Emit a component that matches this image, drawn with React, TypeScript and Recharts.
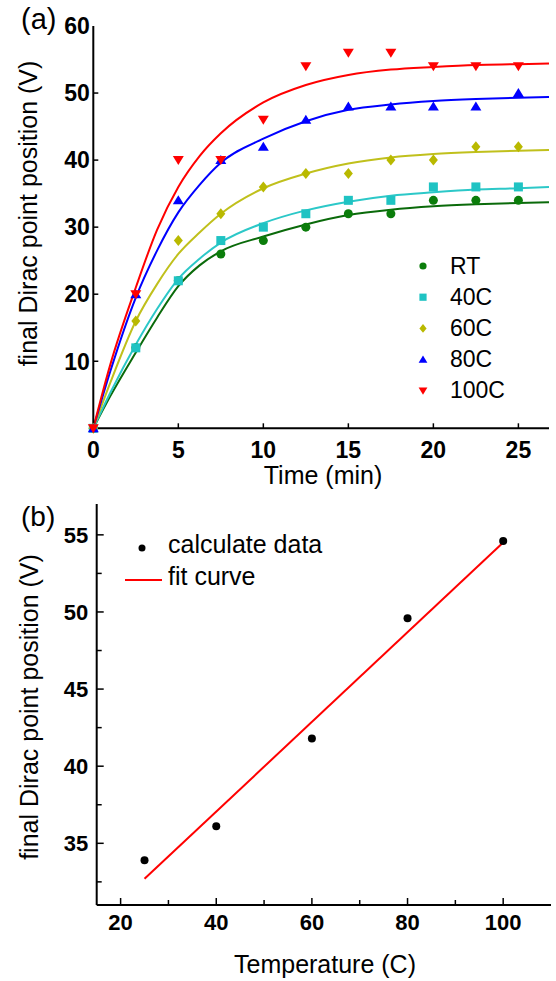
import { ComposedChart, Line, Scatter, XAxis, YAxis } from "recharts";

const FONT = '"Liberation Sans", Arial, sans-serif';

// (a) measured points
const times = [0, 2.5, 5, 7.5, 10, 12.5, 15, 17.5, 20, 22.5, 25];
const rtPts = [0, 12, 22, 26, 28, 30, 32, 32, 34, 34, 34];
const c40Pts = [0, 12, 22, 28, 30, 32, 34, 34, 36, 36, 36];
const c60Pts = [0, 16, 28, 32, 36, 38, 38, 40, 40, 42, 42];
const c80Pts = [0, 20, 34, 40, 42, 46, 48, 48, 48, 48, 50];
const c100Pts = [0, 20, 40, 40, 46, 54, 56, 56, 54, 54, 54];

// (a) fitted curves
const fitTimes = [0, 1, 2.5, 3.75, 5, 6.25, 7.5, 10, 12.5, 15, 17.5, 20, 22.5, 25, 26.8];
const rtFit = [0, 4.8, 11.3, 16.5, 21.2, 24.3, 26.4, 28.6, 30.4, 31.8, 32.6, 33.1, 33.4, 33.6, 33.7];
const c40Fit = [0, 5.3, 12.5, 17.8, 22.3, 25.3, 27.7, 30.6, 32.5, 33.8, 34.7, 35.2, 35.6, 35.8, 36.0];
const c60Fit = [0, 6.8, 16.0, 21.5, 26.0, 29.2, 32.0, 35.8, 38.0, 39.5, 40.4, 40.9, 41.2, 41.4, 41.5];
const c80Fit = [0, 8.5, 19.5, 26.5, 32.2, 36.3, 39.6, 43.2, 45.8, 47.5, 48.3, 48.8, 49.1, 49.3, 49.4];
const c100Fit = [0, 9.5, 21.0, 29.6, 36.0, 40.6, 44.0, 48.6, 51.2, 52.7, 53.5, 53.9, 54.2, 54.3, 54.4];

const seriesNames = ["RT", "40C", "60C", "80C", "100C"];

// (b)
const temps = [25, 40, 60, 80, 100];
const finalPos = [33.9, 36.1, 41.8, 49.6, 54.6];
const fitTemps = [25, 100];
const fitPos = [32.7, 54.5];

// ticks
const timeTicks = [0, 5, 10, 15, 20, 25];
const voltTicks = [0, 10, 20, 30, 40, 50, 60];
const tempTicks = [20, 30, 40, 50, 60, 70, 80, 90, 100];
const posTicks = [32.5, 35, 37.5, 40, 42.5, 45, 47.5, 50, 52.5, 55];

const markerColors = ["#0b7d0b", "#1fc3c3", "#b9b900", "#0000ff", "#ff0000"];
const lineColors = ["#0a6a0a", "#2cc8c8", "#c0c01c", "#0000ff", "#ff0000"];
const kinds = ["circle", "square", "diamond", "up", "down"];

const rows = (xs: number[], ys: number[], key: string) =>
  xs.map((x, i) => ({ [key]: x, v: ys[i] }));

const pointSets = [rtPts, c40Pts, c60Pts, c80Pts, c100Pts].map((p) => rows(times, p, "t"));
const fitSets = [rtFit, c40Fit, c60Fit, c80Fit, c100Fit].map((f) => rows(fitTimes, f, "t"));

function Marker({ kind, cx, cy, color, s = 1 }: any) {
  if (kind === "circle") return <circle cx={cx} cy={cy} r={4.5 * s} fill={color} />;
  if (kind === "square")
    return <rect x={cx - 4.5 * s} y={cy - 4.5 * s} width={9 * s} height={9 * s} fill={color} />;
  let d = "";
  if (kind === "diamond")
    d = `M${cx},${cy - 5.5 * s}L${cx + 4.5 * s},${cy}L${cx},${cy + 5.5 * s}L${cx - 4.5 * s},${cy}Z`;
  else if (kind === "up")
    d = `M${cx},${cy - 5 * s}L${cx + 5.5 * s},${cy + 4 * s}L${cx - 5.5 * s},${cy + 4 * s}Z`;
  else d = `M${cx},${cy + 5 * s}L${cx + 5.5 * s},${cy - 4 * s}L${cx - 5.5 * s},${cy - 4 * s}Z`;
  return <path d={d} fill={color} />;
}

type Side = "left" | "right" | "top" | "bottom";
interface TickOpts {
  side: Side;
  at: number; // axis line position (x for left/right, y for top/bottom)
  len: (v: number) => number;
  label?: (v: number) => string;
  size?: number;
  gap?: number;
}

// ticks point inward; the axis coordinate is fixed from the layout
const makeTick = (o: TickOpts) => (props: any) => {
  const { payload } = props;
  const v = payload.value as number;
  const c = payload.coordinate as number;
  const L = o.len(v);
  const text = o.label ? o.label(v) : "";
  const size = o.size ?? 23;
  const gap = o.gap ?? 4;
  const vertical = o.side === "left" || o.side === "right";
  const x = vertical ? o.at : c;
  const y = vertical ? c : o.at;
  let x2 = x, y2 = y, tx = x, ty = y;
  let anchor: any = "middle";
  if (o.side === "left") {
    x2 = x + L; tx = x - gap; ty = y + size * 0.36; anchor = "end";
  } else if (o.side === "right") {
    x2 = x - L;
  } else if (o.side === "bottom") {
    y2 = y - L; ty = y + gap + size * 0.72;
  } else {
    y2 = y + L;
  }
  return (
    <g>
      {L > 0 && <line x1={x} y1={y} x2={x2} y2={y2} stroke="#000" strokeWidth={1.5} />}
      {text && (
        <text x={tx} y={ty} textAnchor={anchor} style={{ fontFamily: FONT, fontWeight: 700, fontSize: size }} fill="#000">
          {text}
        </text>
      )}
    </g>
  );
};

const axisLine = { stroke: "#000", strokeWidth: 2 };

// plot box of (a): x 93.3..549, y 26..428.3
function TopChart() {
  return (
    <ComposedChart width={556} height={500} margin={{ top: 26, right: 7, bottom: 21.7, left: 33.3 }}>
      <XAxis
        type="number" dataKey="t" domain={[0, 26.8]} ticks={timeTicks} interval={0} height={50}
        tickSize={0} tickMargin={0} tickLine={false} axisLine={axisLine}
        tick={makeTick({ side: "bottom", at: 428.3, len: (v) => (v > 0 ? 5 : 0), label: (v) => String(v), gap: 13 })}
      />
      <XAxis
        xAxisId="top" orientation="top" type="number" domain={[0, 26.8]} allowDataOverflow
        ticks={[5, 10, 15, 20, 25]} interval={0} height={0} tickSize={0} tickMargin={0}
        tickLine={false} axisLine={axisLine} tick={makeTick({ side: "top", at: 26, len: () => 5 })}
      />
      <YAxis
        type="number" domain={[0, 60]} ticks={voltTicks} interval={0} width={60}
        tickSize={0} tickMargin={0} tickLine={false} axisLine={axisLine}
        tick={makeTick({ side: "left", at: 93.3, len: (v) => (v > 0 && v < 60 ? 5 : 0), label: (v) => (v > 0 ? String(v) : ""), gap: 3.5 })}
      />
      <YAxis
        yAxisId="right" orientation="right" type="number" domain={[0, 60]} allowDataOverflow
        ticks={[10, 20, 30, 40, 50]} interval={0} width={0} tickSize={0} tickMargin={0}
        tickLine={false} axisLine={axisLine} tick={makeTick({ side: "right", at: 549, len: () => 5 })}
      />
      {fitSets.map((d, i) => (
        <Line
          key={"fit" + i} data={d} dataKey="v" type="monotone" stroke={lineColors[i]} strokeWidth={2}
          dot={false} activeDot={false} isAnimationActive={false}
        />
      ))}
      {pointSets.map((d, i) => (
        <Scatter
          key={"pts" + i} name={seriesNames[i]} data={d} dataKey="v" isAnimationActive={false}
          shape={(p: any) => <Marker kind={kinds[i]} cx={p.cx} cy={p.cy} color={markerColors[i]} />}
        />
      ))}
    </ComposedChart>
  );
}

// plot box of (b), chart-local: x 96.7..551, y 4..405
function BottomChart() {
  return (
    <ComposedChart width={556} height={481} margin={{ top: 4, right: 5, bottom: 26, left: 36.7 }}>
      <XAxis
        type="number" dataKey="temp" domain={[15, 110]} ticks={tempTicks} interval={0} height={50}
        tickSize={0} tickMargin={0} tickLine={false} axisLine={axisLine}
        tick={makeTick({ side: "bottom", at: 405, len: (v) => (v % 20 === 0 ? 7 : 5), label: (v) => (v % 20 === 0 ? String(v) : ""), size: 22, gap: 9.5 })}
      />
      <XAxis
        xAxisId="top" orientation="top" type="number" domain={[15, 110]} allowDataOverflow
        height={0} tick={false} tickLine={false} axisLine={axisLine}
      />
      <YAxis
        type="number" domain={[31, 57]} ticks={posTicks} interval={0} width={60}
        tickSize={0} tickMargin={0} tickLine={false} axisLine={axisLine}
        tick={makeTick({ side: "left", at: 96.7, len: (v) => (v % 5 === 0 ? 7 : 5), label: (v) => (v % 5 === 0 ? String(v) : ""), size: 22, gap: 8.5 })}
      />
      <YAxis
        yAxisId="right" orientation="right" type="number" domain={[31, 57]} allowDataOverflow
        width={0} tick={false} tickLine={false} axisLine={axisLine}
      />
      <Line
        data={rows(fitTemps, fitPos, "temp")} dataKey="v" type="linear" stroke="#ff0000" strokeWidth={2}
        dot={false} activeDot={false} isAnimationActive={false}
      />
      <Scatter
        name="calculate data" data={rows(temps, finalPos, "temp")} dataKey="v" isAnimationActive={false}
        shape={(p: any) => <circle cx={p.cx} cy={p.cy} r={4} fill="#000" />}
      />
    </ComposedChart>
  );
}

const titleStyle = { fontFamily: FONT, fontSize: 25, fill: "#000" };

export default function App() {
  return (
    <div style={{ position: "absolute", left: 0, top: 0, width: 556, height: 981, background: "#fff" }}>
      <div style={{ position: "absolute", left: 0, top: 0 }}>
        <TopChart />
      </div>
      <div style={{ position: "absolute", left: 0, top: 500 }}>
        <BottomChart />
      </div>
      <svg width={556} height={981} style={{ position: "absolute", left: 0, top: 0, pointerEvents: "none" }}>
        <text x={21} y={29} fontFamily={FONT} fontSize={29}>(a)</text>
        <text x={21} y={526} fontFamily={FONT} fontSize={28}>(b)</text>
        <text transform="translate(37,213.5) rotate(-90)" textAnchor="middle" {...titleStyle}>
          final Dirac point position (V)
        </text>
        <text transform="translate(38,707) rotate(-90)" textAnchor="middle" {...titleStyle}>
          final Dirac point position (V)
        </text>
        <text x={323} y={484} textAnchor="middle" {...titleStyle}>Time (min)</text>
        <text x={325} y={973} textAnchor="middle" {...titleStyle}>Temperature (C)</text>
        {seriesNames.map((n, i) => (
          <g key={n}>
            <Marker kind={kinds[i]} cx={423} cy={266 + i * 31.2} color={markerColors[i]} s={0.8} />
            <text x={450} y={273.5 + i * 31.2} fontFamily={FONT} fontSize={23}>{n}</text>
          </g>
        ))}
        <circle cx={142} cy={548} r={3.5} fill="#000" />
        <text x={168} y={553} {...titleStyle}>calculate data</text>
        <line x1={125} y1={580} x2={162} y2={580} stroke="#ff0000" strokeWidth={2} />
        <text x={168} y={585} {...titleStyle}>fit curve</text>
      </svg>
    </div>
  );
}
